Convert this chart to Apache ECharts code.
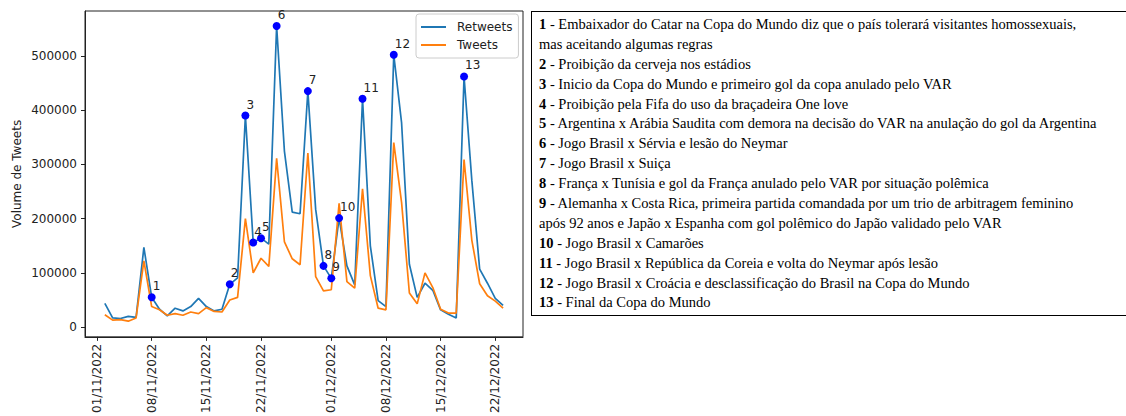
<!DOCTYPE html>
<html>
<head>
<meta charset="utf-8">
<script src="https://cdn.jsdelivr.net/npm/echarts@6/dist/echarts.min.js"></script>
<style>
html,body{margin:0;padding:0;background:#fff;width:1126px;height:416px;overflow:hidden;}
#chart{position:absolute;left:0;top:0;width:1126px;height:416px;}
#notes{position:absolute;left:531px;top:11px;width:587px;height:300px;border:1.5px solid #000;
  font-family:"Liberation Serif","Times New Roman",serif;font-size:14.5px;line-height:19.9px;color:#000;
  padding:3px 0 0 7px;white-space:nowrap;box-sizing:content-box;}
#notes div{height:19.9px;}
#notes b{font-weight:bold;}
</style>
</head>
<body>
<div id="chart"></div>
<div id="notes"></div>
<script>
// ---- data ----
const dates = ['02/11/2022','03/11/2022','04/11/2022','05/11/2022','06/11/2022','07/11/2022','08/11/2022',
  '09/11/2022','10/11/2022','11/11/2022','12/11/2022','13/11/2022','14/11/2022','15/11/2022','16/11/2022',
  '17/11/2022','18/11/2022','19/11/2022','20/11/2022','21/11/2022','22/11/2022','23/11/2022','24/11/2022',
  '25/11/2022','26/11/2022','27/11/2022','28/11/2022','29/11/2022','30/11/2022','01/12/2022','02/12/2022',
  '03/12/2022','04/12/2022','05/12/2022','06/12/2022','07/12/2022','08/12/2022','09/12/2022','10/12/2022',
  '11/12/2022','12/12/2022','13/12/2022','14/12/2022','15/12/2022','16/12/2022','17/12/2022','18/12/2022',
  '19/12/2022','20/12/2022','21/12/2022','22/12/2022','23/12/2022'];
const retweets = [44000,17000,16000,20000,18000,147000,55000,33000,21000,35000,30000,38000,53000,38000,30000,
  33000,79000,91000,390000,156000,164000,153000,555000,324000,212000,209000,435000,217000,113000,90000,
  201000,113000,78000,421000,150000,49000,38000,502000,377000,116000,55000,81000,68000,32000,24000,17000,
  462000,270000,107000,81000,53000,40000];
const tweets = [23000,13000,14000,11000,17000,122000,38000,32000,22000,25000,22000,28000,25000,36000,29000,
  28000,50000,55000,200000,100000,127000,112000,311000,157000,126000,115000,321000,93000,67000,69000,
  228000,84000,72000,255000,95000,35000,32000,340000,230000,63000,43000,100000,73000,33000,26000,26000,
  309000,160000,80000,58000,48000,35000];
const eventDates = ['08/11/2022','18/11/2022','20/11/2022','21/11/2022','22/11/2022','24/11/2022','28/11/2022',
  '30/11/2022','01/12/2022','02/12/2022','05/12/2022','09/12/2022','18/12/2022'];
const eventLabels = ['1','2','3','4','5','6','7','8','9','10','11','12','13'];
const eventTexts = [
  'Embaixador do Catar na Copa do Mundo diz que o país tolerará visitantes homossexuais,\nmas aceitando algumas regras',
  'Proibição da cerveja nos estádios',
  'Inicio da Copa do Mundo e primeiro gol da copa anulado pelo VAR',
  'Proibição pela Fifa do uso da braçadeira One love',
  'Argentina x Arábia Saudita com demora na decisão do VAR na anulação do gol da Argentina',
  'Jogo Brasil x Sérvia e lesão do Neymar',
  'Jogo Brasil x Suiça',
  'França x Tunísia e gol da França anulado pelo VAR por situação polêmica',
  'Alemanha x Costa Rica, primeira partida comandada por um trio de arbitragem feminino\napós 92 anos e Japão x Espanha com gol polêmico do Japão validado pelo VAR',
  'Jogo Brasil x Camarões',
  'Jogo Brasil x República da Coreia e volta do Neymar após lesão',
  'Jogo Brasil x Croácia e desclassificação do Brasil na Copa do Mundo',
  'Final da Copa do Mundo'
];
const xTickLabels = ['01/11/2022','08/11/2022','15/11/2022','22/11/2022','01/12/2022','08/12/2022','15/12/2022','22/12/2022'];
const yTicks = [0,100000,200000,300000,400000,500000];

// ---- helpers ----
const origin = Date.UTC(2022,10,1);
function dayOf(s){const p=s.split('/');return (Date.UTC(+p[2],+p[1]-1,+p[0])-origin)/86400000;}
const xTicks = xTickLabels.map(dayOf);

// notes box: one div per visual line
const notes = document.getElementById('notes');
eventTexts.forEach((t,i)=>{
  const lines = t.split('\n');
  lines.forEach((ln,j)=>{
    const div = document.createElement('div');
    if(j===0){
      const b = document.createElement('b'); b.textContent = eventLabels[i];
      div.appendChild(b);
      div.appendChild(document.createTextNode(' - '+ln));
    } else {
      div.textContent = ln;
    }
    notes.appendChild(div);
  });
});

const font = 'DejaVu Sans';
const txt = '#222';
const chart = echarts.init(document.getElementById('chart'), null, {renderer:'svg'});
chart.setOption({
  animation:false,
  textStyle:{fontFamily:font},
  grid:{left:85, top:11, width:438, height:327, show:true, borderColor:'#222', borderWidth:1, backgroundColor:'transparent'},
  legend:{
    orient:'vertical', left:416, top:14, padding:[7,6,7,5], itemGap:6,
    icon:'rect', itemWidth:25, itemHeight:2, borderColor:'#ccc', borderWidth:1, borderRadius:3,
    backgroundColor:'rgba(255,255,255,0.8)',
    textStyle:{fontFamily:font, fontSize:12, color:txt, padding:[0,0,0,6]},
    data:['Retweets','Tweets']
  },
  xAxis:{
    type:'value', min:-1.54, max:54.55,
    axisLine:{show:true, onZero:false, lineStyle:{color:'#222', width:1}},
    axisTick:{show:true, length:4, lineStyle:{color:'#222'}, customValues:xTicks},
    axisLabel:{rotate:90, margin:7, fontSize:12, color:txt, fontFamily:font, customValues:xTicks,
      formatter:function(v){const i=xTicks.indexOf(v);return i>=0?xTickLabels[i]:'';}},
    splitLine:{show:false}
  },
  yAxis:{
    type:'value', min:-17800, max:582600,
    name:'Volume de Tweets', nameLocation:'middle', nameRotate:90, nameGap:62,
    nameTextStyle:{fontFamily:font, fontSize:12, color:txt},
    axisLine:{show:true, onZero:false, lineStyle:{color:'#222', width:1}},
    axisTick:{show:true, length:4, lineStyle:{color:'#222'}, customValues:yTicks},
    axisLabel:{margin:8, fontSize:12, color:txt, fontFamily:font, customValues:yTicks,
      formatter:function(v){return String(v);}},
    splitLine:{show:false}
  },
  series:[
    {name:'Retweets', type:'line', symbol:'none', z:2,
      lineStyle:{color:'#1f77b4', width:1.7}, itemStyle:{color:'#1f77b4'},
      data:dates.map((d,i)=>[dayOf(d), retweets[i]])},
    {name:'Tweets', type:'line', symbol:'none', z:3,
      lineStyle:{color:'#ff7f0e', width:1.7}, itemStyle:{color:'#ff7f0e'},
      data:dates.map((d,i)=>[dayOf(d), tweets[i]])},
    {name:'eventos', type:'scatter', symbol:'circle', symbolSize:8, z:4,
      itemStyle:{color:'#0000ff', opacity:1},
      label:{show:true, position:[5,-1], align:'left', verticalAlign:'bottom',
        fontFamily:font, fontSize:12, color:txt,
        formatter:function(p){return p.data[2];}},
      data:eventDates.map((d,i)=>{const k=dates.indexOf(d);return [dayOf(d), retweets[k], eventLabels[i]];})}
  ]
});
</script>
</body>
</html>
